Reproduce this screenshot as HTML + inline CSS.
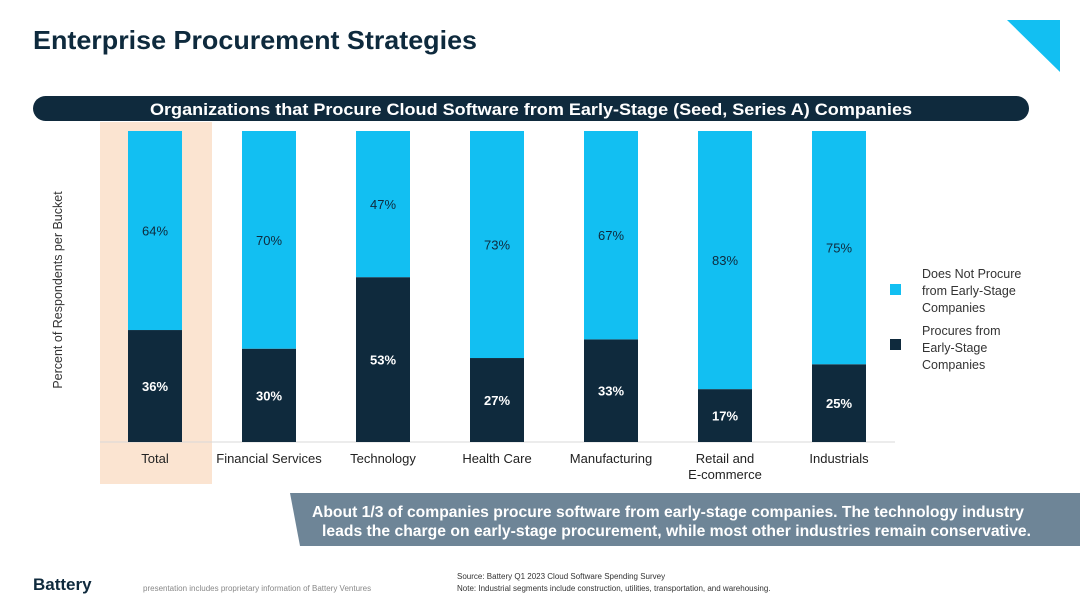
<!DOCTYPE html>
<html><head><meta charset="utf-8"><style>
body{margin:0;width:1080px;height:608px;background:#fff;font-family:"Liberation Sans",Arial,sans-serif;position:relative;overflow:hidden}
.abs{position:absolute}
</style></head><body>
<svg class="abs" style="left:0;top:0" width="1080" height="608">
<text x="33" y="49" font-size="26" font-weight="bold" fill="#0e2a3d" textLength="444" lengthAdjust="spacingAndGlyphs">Enterprise Procurement Strategies</text>
<polygon points="1007,20 1060,20 1060,72" fill="#12bff2"/>
<rect x="33" y="96" width="996" height="25" rx="12.5" fill="#0f2a3d"/>
<text x="150" y="115" font-size="17" font-weight="bold" fill="#fff" textLength="762" lengthAdjust="spacingAndGlyphs">Organizations that Procure Cloud Software from Early-Stage (Seed, Series A) Companies</text>
<rect x="100" y="122" width="112" height="362" fill="#fbe4d1"/>
<line x1="100" y1="442" x2="895" y2="442" stroke="#d9d9d9"/>
<text transform="translate(62,290) rotate(-90)" text-anchor="middle" font-size="12.5" fill="#333">Percent of Respondents per Bucket</text>
<g id="bars"></g>
<rect x="890" y="284" width="11" height="11" fill="#12bff2"/>
<text font-size="12.5" fill="#333"><tspan x="922" y="278">Does Not Procure</tspan><tspan x="922" y="295">from Early-Stage</tspan><tspan x="922" y="312">Companies</tspan></text>
<rect x="890" y="339" width="11" height="11" fill="#0f2a3d"/>
<text font-size="12.5" fill="#333"><tspan x="922" y="335">Procures from</tspan><tspan x="922" y="352">Early-Stage</tspan><tspan x="922" y="369">Companies</tspan></text>
<polygon points="290,493 1080,493 1080,546 300,546" fill="#6e8597"/>
<text font-size="15.5" font-weight="bold" fill="#fff"><tspan x="312" y="517" textLength="712" lengthAdjust="spacingAndGlyphs">About 1/3 of companies procure software from early-stage companies. The technology industry</tspan><tspan x="322" y="536" textLength="709" lengthAdjust="spacingAndGlyphs">leads the charge on early-stage procurement, while most other industries remain conservative.</tspan></text>
<text x="457" y="579" font-size="8" fill="#333">Source: Battery Q1 2023 Cloud Software Spending Survey</text>
<text x="457" y="591" font-size="8" fill="#333">Note: Industrial segments include construction, utilities, transportation, and warehousing.</text>
<text x="33" y="590" font-size="17" font-weight="bold" fill="#0f2a3d">Battery</text>
<text x="143" y="591" font-size="8" fill="#888">presentation includes proprietary information of Battery Ventures</text>
</svg>
<script>
const categories=["Total","Financial Services","Technology","Health Care","Manufacturing","Retail and|E-commerce","Industrials"];
const procures=[36,30,53,27,33,17,25];
const notProcure=[64,70,47,73,67,83,75];
const NS="http://www.w3.org/2000/svg";
const g=document.getElementById("bars");
const y0=442,plotH=311,x0=155,step=114,bw=54;
const yS=v=>v/100*plotH;
const xS=i=>x0+i*step;
function el(t,a){const e=document.createElementNS(NS,t);for(const k in a)e.setAttribute(k,a[k]);g.appendChild(e);return e;}
categories.forEach((c,i)=>{
 const cx=xS(i),hD=yS(procures[i]),hL=yS(notProcure[i]);
 const d=el("rect",{x:cx-bw/2,y:y0-hD,width:bw,height:hD,fill:"#0f2a3d"});
 
 
 const l=el("rect",{x:cx-bw/2,y:y0-hD-hL,width:bw,height:hL,fill:"#12bff2"});
 
 
 const t1=el("text",{x:cx,y:y0-hD/2+5,"text-anchor":"middle","font-size":"13","font-weight":"bold",fill:"#fff"});
 t1.textContent=procures[i]+"%";
 
 
 const t2=el("text",{x:cx,y:y0-hD-hL/2+5,"text-anchor":"middle","font-size":"13",fill:"#0f2a3d"});
 t2.textContent=notProcure[i]+"%";
 
 
 c.split("|").forEach((ln,j)=>{
  const t=el("text",{x:cx,y:463+j*16,"text-anchor":"middle","font-size":"13",fill:"#222"});
  t.textContent=ln;
  
  
 });
});
</script>
</body></html>
